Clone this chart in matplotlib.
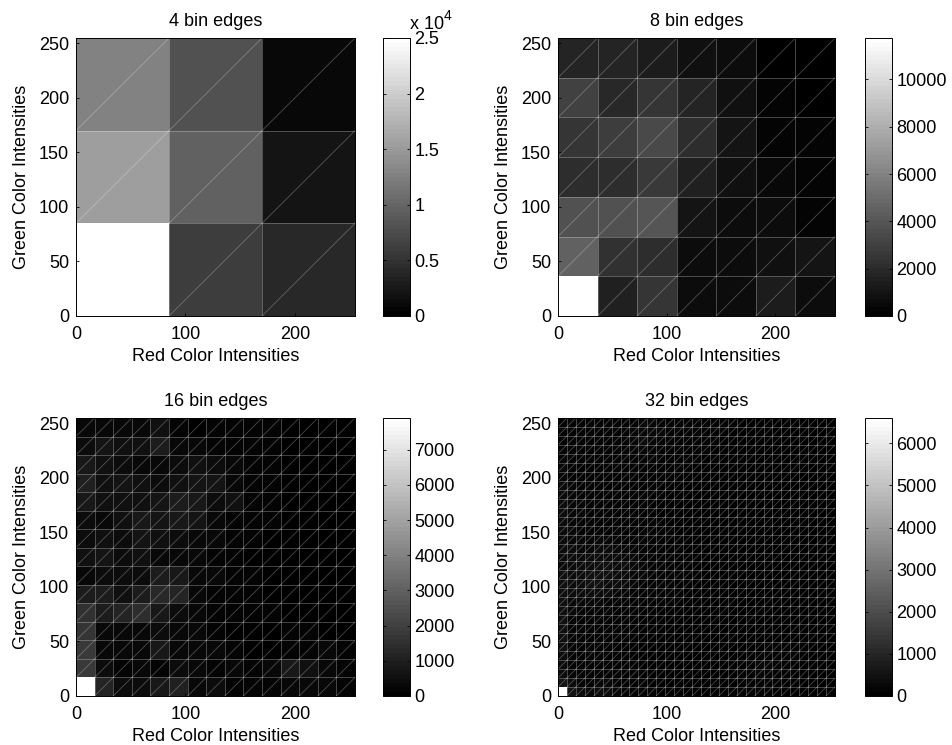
"""Red/green colour histograms at four bin counts."""
import numpy as np
import matplotlib
matplotlib.use('Agg')
import matplotlib.pyplot as plt

plt.rcParams['font.family'] = ['Liberation Sans', 'DejaVu Sans']
plt.rcParams['font.size'] = 13

W, H = 952, 745

titles = ['4 bin edges', '8 bin edges', '16 bin edges', '32 bin edges']

# counts per cell, rows listed from the top of the plot down
hist4 = [
    [12500, 8000, 800],
    [15300, 9400, 2000],
    [25000, 5900, 4100],
]
hist8 = [
    [1760, 1670, 1300, 830, 555, 90, 90],
    [2960, 1945, 2500, 1670, 830, 280, 90],
    [2410, 2780, 3330, 2040, 1020, 280, 185],
    [2040, 2040, 2590, 1570, 830, 460, 280],
    [3700, 3800, 3890, 1020, 650, 555, 280],
    [4440, 2310, 2040, 650, 650, 830, 1020],
    [11750, 1480, 2410, 650, 650, 1300, 555],
]
hist16 = [
    [310, 370, 370, 370, 560, 125, 60, 185, 185, 125, 125, 60, 60, 60, 60],
    [435, 620, 495, 560, 870, 310, 310, 185, 185, 125, 125, 60, 60, 60, 60],
    [745, 495, 435, 370, 370, 435, 495, 435, 310, 185, 125, 60, 60, 60, 60],
    [1050, 560, 620, 495, 435, 560, 620, 680, 370, 185, 125, 60, 60, 60, 60],
    [805, 560, 495, 495, 620, 930, 805, 435, 495, 185, 125, 60, 60, 60, 60],
    [435, 370, 560, 745, 680, 805, 680, 310, 185, 125, 125, 60, 60, 60, 60],
    [435, 495, 435, 680, 495, 435, 370, 250, 125, 125, 60, 60, 60, 60, 60],
    [495, 620, 435, 495, 370, 310, 310, 185, 125, 60, 60, 60, 60, 60, 60],
    [370, 435, 435, 435, 870, 805, 310, 250, 185, 125, 60, 60, 60, 60, 60],
    [930, 870, 560, 930, 1240, 1180, 250, 185, 185, 125, 60, 60, 60, 60, 60],
    [1490, 870, 1115, 1365, 745, 435, 250, 185, 185, 125, 125, 60, 60, 60, 60],
    [1610, 370, 310, 250, 435, 310, 250, 185, 60, 60, 60, 125, 125, 60, 60],
    [1800, 310, 310, 310, 805, 370, 310, 250, 185, 60, 60, 185, 185, 250, 125],
    [1735, 435, 125, 250, 125, 435, 250, 125, 250, 185, 250, 745, 495, 310, 125],
    [7900, 1115, 435, 435, 805, 1050, 310, 435, 125, 125, 125, 310, 370, 250, 125],
]
hist32 = [
    [155, 155, 205, 205, 205, 155, 155, 205, 205, 260, 260, 205, 205, 205, 205, 155, 155, 155, 155, 155, 100, 100, 100, 100, 50, 50, 50, 50, 50, 50, 50],
    [205, 205, 205, 155, 155, 155, 205, 205, 260, 260, 260, 260, 205, 205, 205, 155, 155, 155, 155, 100, 100, 100, 100, 50, 50, 50, 50, 50, 50, 50, 100],
    [205, 155, 155, 155, 155, 155, 205, 205, 260, 310, 260, 205, 205, 205, 155, 155, 155, 155, 100, 100, 100, 100, 50, 50, 50, 50, 50, 50, 50, 100, 100],
    [205, 155, 155, 155, 205, 205, 205, 205, 260, 260, 205, 205, 205, 155, 155, 155, 155, 100, 100, 100, 100, 50, 50, 50, 50, 50, 50, 50, 50, 100, 100],
    [205, 155, 155, 205, 205, 205, 205, 205, 205, 205, 205, 205, 155, 155, 155, 155, 100, 100, 100, 100, 50, 50, 50, 50, 50, 50, 50, 50, 100, 100, 100],
    [260, 205, 205, 205, 205, 205, 205, 205, 205, 205, 205, 155, 155, 155, 155, 100, 100, 100, 100, 50, 50, 50, 50, 50, 50, 50, 50, 50, 100, 100, 100],
    [260, 205, 205, 205, 205, 205, 205, 205, 205, 155, 155, 155, 155, 155, 100, 100, 100, 100, 50, 50, 50, 50, 50, 50, 50, 50, 50, 50, 50, 100, 100],
    [310, 260, 205, 205, 205, 205, 205, 155, 155, 155, 155, 155, 155, 100, 100, 100, 100, 50, 50, 50, 50, 50, 50, 50, 50, 50, 50, 50, 50, 100, 100],
    [310, 260, 205, 205, 205, 205, 155, 155, 155, 155, 155, 155, 100, 100, 100, 100, 50, 50, 50, 50, 50, 50, 50, 50, 50, 50, 50, 50, 50, 50, 100],
    [365, 260, 260, 205, 205, 155, 155, 155, 155, 155, 155, 100, 100, 100, 100, 100, 50, 50, 50, 50, 50, 50, 50, 50, 50, 50, 50, 50, 50, 50, 50],
    [365, 260, 260, 205, 205, 205, 155, 155, 155, 155, 155, 100, 100, 100, 100, 50, 50, 50, 50, 50, 50, 50, 50, 50, 50, 50, 50, 50, 50, 50, 50],
    [310, 260, 205, 205, 205, 205, 205, 155, 155, 155, 155, 155, 100, 100, 100, 100, 50, 50, 50, 50, 50, 50, 50, 50, 50, 50, 50, 50, 50, 50, 50],
    [310, 260, 205, 205, 205, 205, 205, 205, 205, 155, 155, 155, 155, 100, 100, 100, 100, 50, 50, 50, 50, 50, 50, 50, 50, 50, 50, 50, 50, 50, 50],
    [310, 260, 260, 260, 260, 260, 205, 205, 205, 205, 155, 155, 155, 155, 100, 100, 100, 100, 50, 50, 50, 50, 50, 50, 50, 50, 50, 50, 50, 50, 50],
    [365, 310, 260, 260, 310, 310, 260, 260, 205, 205, 205, 155, 155, 155, 100, 100, 100, 100, 100, 50, 50, 50, 50, 50, 50, 50, 50, 50, 50, 50, 50],
    [365, 310, 310, 310, 365, 365, 310, 260, 260, 205, 205, 155, 155, 155, 155, 100, 100, 100, 100, 50, 50, 50, 50, 50, 50, 50, 50, 50, 50, 50, 50],
    [365, 310, 310, 365, 415, 415, 365, 310, 260, 260, 205, 205, 155, 155, 155, 100, 100, 100, 100, 100, 50, 50, 50, 50, 50, 50, 50, 50, 50, 50, 50],
    [415, 365, 365, 415, 465, 415, 365, 310, 260, 260, 205, 205, 155, 155, 155, 155, 100, 100, 100, 100, 50, 50, 50, 50, 50, 50, 50, 50, 50, 50, 50],
    [465, 365, 365, 415, 415, 365, 310, 310, 260, 205, 205, 155, 155, 155, 155, 100, 100, 100, 100, 100, 50, 50, 50, 50, 50, 50, 50, 50, 50, 50, 50],
    [465, 310, 310, 310, 310, 310, 260, 260, 205, 205, 155, 155, 155, 155, 100, 100, 100, 100, 100, 50, 50, 50, 50, 50, 50, 50, 50, 50, 50, 50, 50],
    [465, 260, 260, 260, 260, 205, 205, 205, 205, 155, 155, 155, 155, 100, 100, 100, 100, 100, 50, 50, 50, 50, 50, 50, 50, 50, 50, 50, 50, 50, 50],
    [465, 260, 205, 205, 205, 205, 205, 205, 155, 155, 155, 100, 100, 100, 100, 100, 50, 50, 50, 50, 50, 50, 50, 50, 50, 50, 50, 50, 50, 50, 50],
    [465, 205, 205, 205, 205, 205, 205, 155, 155, 155, 100, 100, 100, 100, 100, 50, 50, 50, 50, 50, 50, 50, 50, 50, 50, 50, 50, 50, 50, 50, 50],
    [415, 205, 155, 155, 155, 155, 155, 155, 155, 100, 100, 100, 100, 100, 50, 50, 50, 50, 50, 50, 50, 50, 50, 50, 50, 50, 50, 50, 50, 50, 50],
    [415, 205, 155, 155, 155, 155, 155, 155, 100, 100, 100, 100, 100, 50, 50, 50, 50, 50, 50, 50, 50, 50, 50, 50, 50, 100, 100, 100, 50, 50, 50],
    [415, 155, 155, 155, 155, 155, 155, 100, 100, 100, 100, 100, 50, 50, 50, 50, 50, 50, 50, 50, 50, 100, 100, 155, 155, 155, 155, 100, 100, 50, 50],
    [365, 155, 155, 155, 155, 155, 155, 155, 100, 100, 100, 100, 50, 50, 50, 50, 50, 50, 50, 50, 100, 155, 205, 205, 205, 155, 155, 100, 100, 50, 50],
    [365, 155, 155, 155, 155, 155, 155, 155, 155, 100, 100, 100, 100, 50, 50, 50, 50, 50, 50, 100, 155, 205, 260, 260, 205, 155, 155, 100, 100, 100, 50],
    [310, 205, 155, 205, 205, 205, 205, 155, 155, 155, 100, 100, 100, 100, 50, 50, 50, 50, 100, 100, 155, 205, 260, 205, 205, 155, 155, 100, 100, 100, 50],
    [520, 310, 205, 205, 260, 260, 205, 205, 155, 155, 100, 100, 100, 100, 100, 50, 50, 50, 100, 100, 155, 205, 205, 205, 155, 155, 155, 100, 100, 100, 50],
    [6600, 520, 310, 260, 310, 365, 260, 205, 205, 155, 155, 100, 100, 100, 100, 100, 100, 100, 100, 155, 155, 155, 155, 155, 155, 100, 100, 100, 100, 50, 50],
]
hists = [hist4, hist8, hist16, hist32]

vmaxes = [25000, 11750, 7900, 6600]
cbar_ticks = [
    [0, 5000, 10000, 15000, 20000, 25000],
    [0, 2000, 4000, 6000, 8000, 10000],
    [0, 1000, 2000, 3000, 4000, 5000, 6000, 7000],
    [0, 1000, 2000, 3000, 4000, 5000, 6000],
]
cbar_labels = [['0', '0.5', '1', '1.5', '2', '2.5'], None, None, None]

# pixel boxes: left, right, top, bottom
ax_left = [76, 558, 76, 558]
ax_right = [355, 835, 355, 835]
ax_top = [38, 38, 418, 418]
ax_bottom = [316, 316, 696, 696]
cb_left = [383, 865, 383, 865]
cb_right = [410, 892, 410, 892]


def box(l, r, t, b):
    return [l / W, 1 - b / H, (r - l) / W, (b - t) / H]


def style_ticks(ax):
    ax.tick_params(direction='in', length=2.5, width=0.6, top=False, right=False)
    for sp in ax.spines.values():
        sp.set_linewidth(0.7)


fig = plt.figure(figsize=(W / 100, H / 100), dpi=100)
cmap = plt.get_cmap('gray', 64)

for i in range(4):
    counts = np.flipud(np.array(hists[i], dtype=float))
    n = counts.shape[0]
    edges = np.linspace(0, 255, n + 1)

    ax = fig.add_axes(box(ax_left[i], ax_right[i], ax_top[i], ax_bottom[i]))
    mesh = ax.pcolormesh(edges, edges, counts, cmap=cmap, vmin=0, vmax=vmaxes[i])

    # faceted cell edges plus the diagonal of each cell
    for e in edges[1:-1]:
        ax.plot([e, e], [0, 255], color='white', alpha=0.27, lw=0.7)
        ax.plot([0, 255], [e, e], color='white', alpha=0.27, lw=0.7)
    for a, b in zip(edges[:-1], edges[1:]):
        for c, d in zip(edges[:-1], edges[1:]):
            ax.plot([a, b], [c, d], color='white', alpha=0.28, lw=0.6)

    ax.set_xlim(0, 255)
    ax.set_ylim(0, 255)
    ax.set_xticks([0, 100, 200])
    ax.set_yticks([0, 50, 100, 150, 200, 250])
    style_ticks(ax)
    ax.tick_params(axis='x', pad=7)
    ax.tick_params(axis='y', pad=5)
    ax.set_xlabel('Red Color Intensities', labelpad=3.5)
    ax.set_ylabel('Green Color Intensities', labelpad=6)
    ax.set_title(titles[i], fontsize=13, pad=9)

    cax = fig.add_axes(box(cb_left[i], cb_right[i], ax_top[i], ax_bottom[i]))
    cb = fig.colorbar(mesh, cax=cax)
    cb.set_ticks(cbar_ticks[i])
    if cbar_labels[i] is not None:
        cb.set_ticklabels(cbar_labels[i])
    cax.tick_params(direction='in', length=2.5, width=0.6, left=True, right=True, pad=3)
    cb.outline.set_linewidth(0.7)

# exponent above the first colorbar
fig.text(410 / W, 1 - 29 / H, 'x 10', fontsize=13, va='baseline')
fig.text(444 / W, 1 - 20 / H, '4', fontsize=10, va='baseline')

fig.savefig('out.png', dpi=100)
